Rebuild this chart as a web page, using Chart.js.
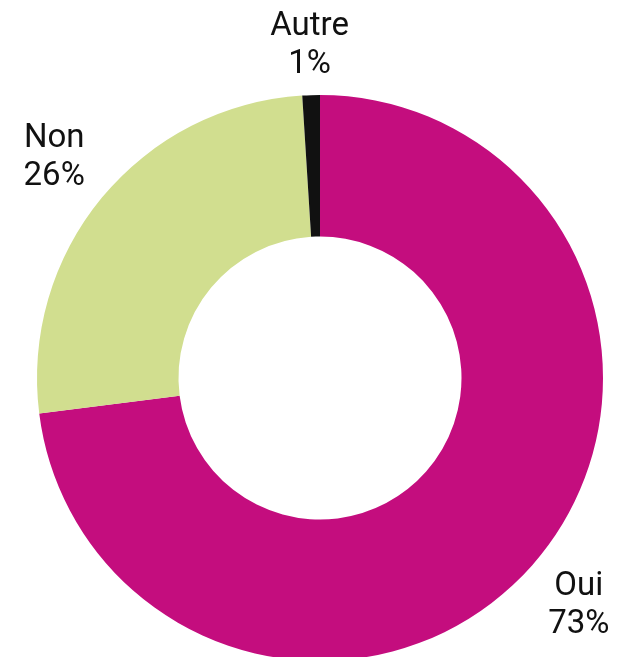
<!DOCTYPE html>
<html>
<head>
<meta charset="utf-8">
<script src="https://cdn.jsdelivr.net/npm/chart.js@4/dist/chart.umd.min.js"></script>
<style>
  html, body { margin: 0; padding: 0; background: #fff; overflow: hidden; }
  #wrap { position: relative; width: 618px; height: 700px; }
</style>
</head>
<body>
<div id="wrap"><canvas id="c"></canvas></div>
<script>
const categories = ["Oui", "Non", "Autre"];
const values = [73, 26, 1];
const valueLabels = ["73%", "26%", "1%"];
const colors = ["#C40D7E", "#D1DE8F", "#111111"];

const labelPlugin = {
  id: "outerLabels",
  afterDatasetsDraw(chart, args, opts) {
    const ctx = chart.ctx;
    const meta = chart.getDatasetMeta(0);
    ctx.save();
    ctx.fillStyle = "#111111";
    ctx.font = "33px Roboto";
    ctx.textAlign = "center";
    ctx.textBaseline = "middle";
    meta.data.forEach((arc, i) => {
      const p = arc.getProps(["x", "y", "startAngle", "endAngle", "outerRadius"], true);
      const mid = (p.startAngle + p.endAngle) / 2;
      const d = p.outerRadius + opts.offsets[i];
      const cx = p.x + Math.cos(mid) * d;
      const cy = p.y + Math.sin(mid) * d;
      const lh = 38;
      ctx.fillText(categories[i], cx, cy - lh / 2);
      ctx.fillText(valueLabels[i], cx, cy + lh / 2);
    });
    ctx.restore();
  }
};

new Chart(document.getElementById("c"), {
  type: "doughnut",
  data: {
    labels: categories,
    datasets: [{
      data: values,
      backgroundColor: colors,
      borderWidth: 0
    }]
  },
  options: {
    responsive: true,
    maintainAspectRatio: false,
    animation: false,
    cutout: "50%",
    layout: { padding: { left: 37, right: 15, top: 95, bottom: 39 } },
    plugins: {
      legend: { display: false },
      tooltip: { enabled: false },
      outerLabels: { offsets: [62, 62, 49] }
    }
  },
  plugins: [labelPlugin]
});
</script>
</body>
</html>
